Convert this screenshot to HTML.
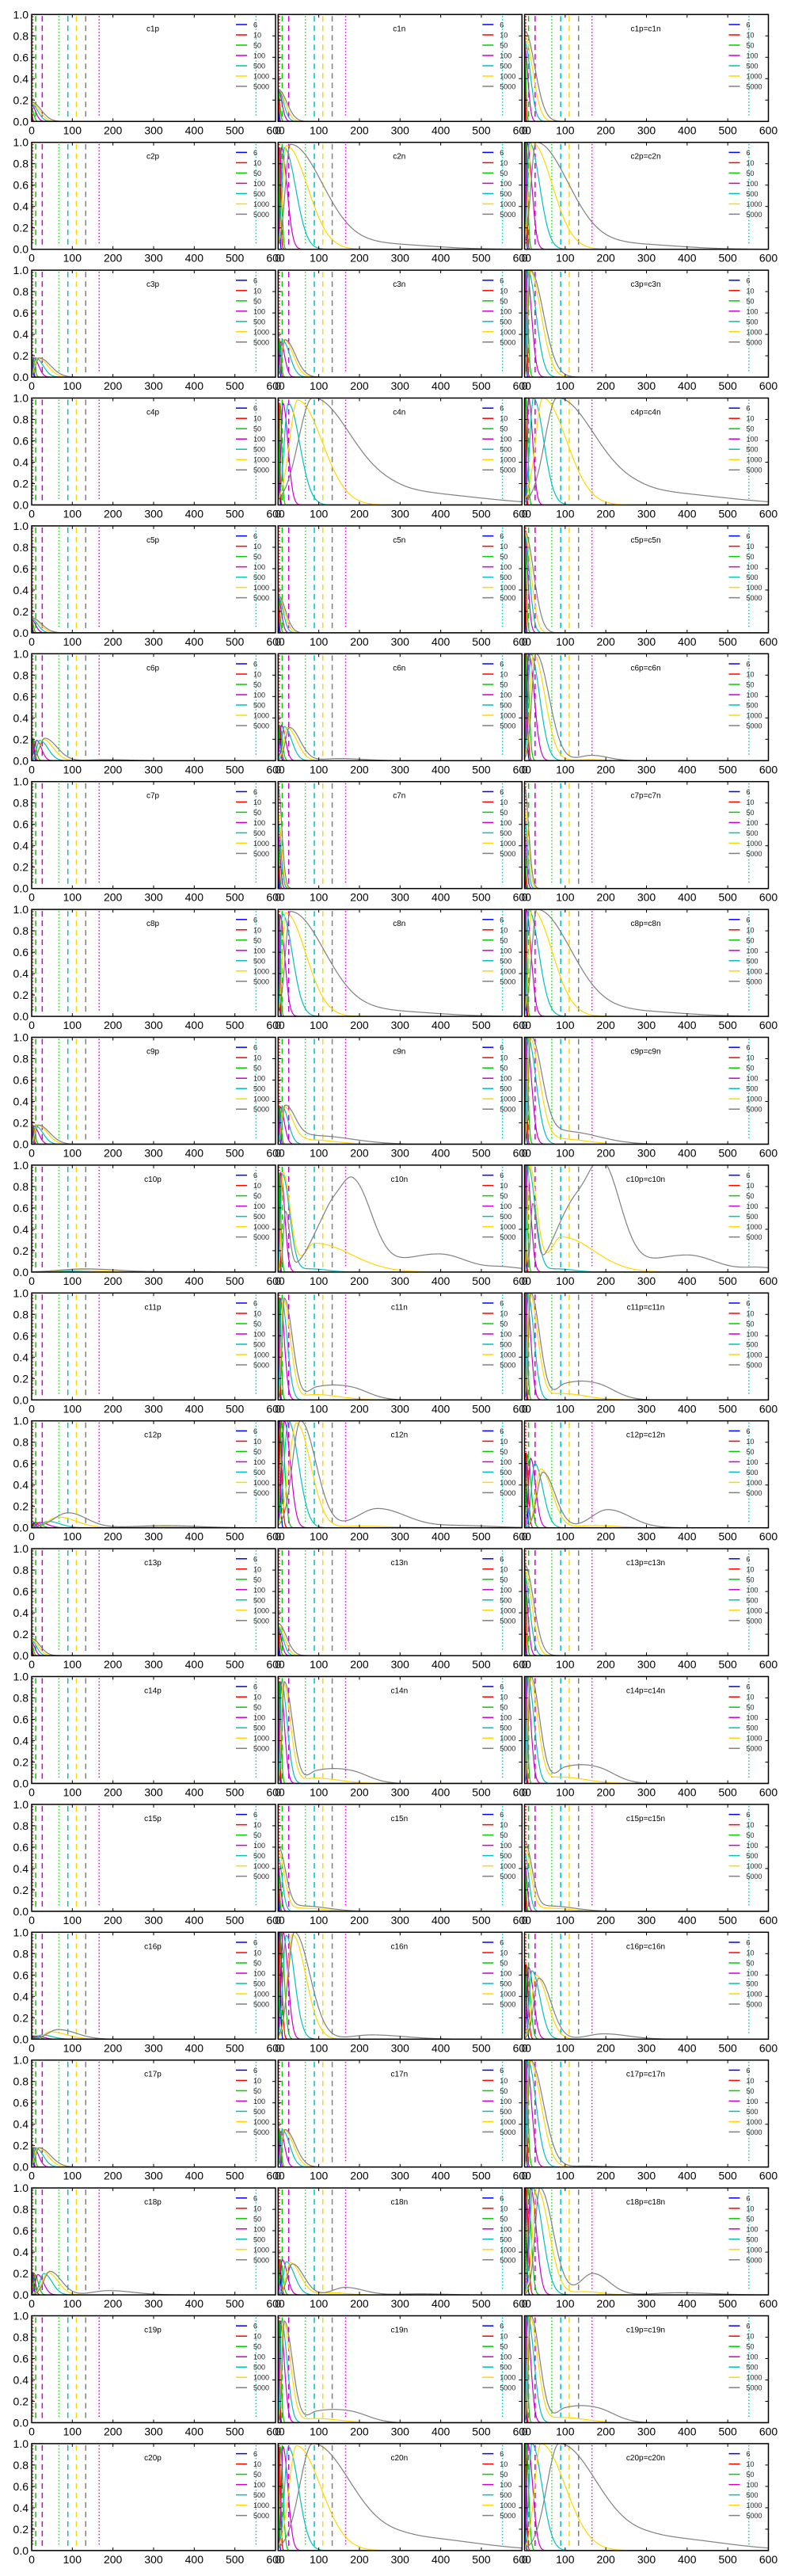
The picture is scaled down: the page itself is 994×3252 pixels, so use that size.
<!DOCTYPE html>
<html><head><meta charset="utf-8"><style>
html,body{margin:0;padding:0;background:#fff;}
svg{display:block;font-family:"Liberation Sans",sans-serif;}
</style></head><body>
<svg id="fig" width="994" height="3252" viewBox="0 0 994 3252" xmlns="http://www.w3.org/2000/svg"></svg>
<script>
const seriesLabels=['6','10','50','100','500','1000','5000'];
const xTicks=[0,100,200,300,400,500,600];
const yTicks=[0,0.2,0.4,0.6,0.8,1.0];
const yTickLabels=['0.0','0.2','0.4','0.6','0.8','1.0'];
const vlineX=[3,10,26,67,89,110,133,166,552];
const rowIds=[1,2,3,4,5,6,7,8,9,10,11,12,13,14,15,16,17,18,19,20];
// each curve: list of bumps [center, height, leftWidth, rightWidth]
const c1p=[[[0,0.05,1,1]],[[0,0.08,1,2]],[[0,0.12,1,5]],[[0,0.15,1,10]],[[0,0.16,1,15]],[[0,0.17,1,19]],[[0,0.18,1,23]]];
const c1n=[[[0,0.3,1,1]],[[0,0.3,1,2]],[[0,0.3,1,4]],[[0,0.3,1,9]],[[0,0.3,1,13]],[[0,0.3,1,17]],[[0,0.3,1,21]]];
const c1b=[[[0,1,1,1]],[[0,1,1,1.5]],[[0,0.9,1,3]],[[0,0.7,1,8]],[[0,0.75,1,14]],[[0,0.8,1,20]],[[0,0.85,1,25]]];
const c2p=[[],[],[],[],[],[],[]];
const c2n=[[[1,0.95,0.5,2]],[[3,0.95,1,3]],[[5,0.95,2,4]],[[8,0.95,3,14]],[[15,0.95,6,28]],[[20,0.97,8,52]],[[30,0.98,12,80],[250,0.05,80,120]]];
const c2b=[[[1,1,0.5,2]],[[2,1,1,3]],[[4,1,2,4]],[[6,1,2,12]],[[12,1,5,25]],[[18,1,8,50]],[[28,1,12,80],[250,0.05,80,120]]];
const c3p=[[[1,0.18,1,2]],[[1,0.18,1,3]],[[2,0.18,1,5]],[[5,0.18,3,12]],[[10,0.18,5,18]],[[15,0.18,7,24]],[[18,0.18,8,28]]];
const c3n=[[[1,0.35,1,2]],[[2,0.35,1,3]],[[3,0.35,1,4]],[[6,0.33,3,10]],[[10,0.35,4,18]],[[15,0.35,6,22]],[[17,0.35,7,25]]];
const c3b=[[[1,1,1,2]],[[2,1,1,3]],[[3,1,1,5]],[[5,1,2,12]],[[8,1,3,20]],[[12,1,4,28]],[[14,1,5,32]]];
const c4p=[[],[],[],[],[],[],[]];
const c4n=[[[1,0.95,0.5,1.5]],[[2,0.95,1,2]],[[5,0.95,2,4]],[[12,0.95,5,12]],[[25,0.95,10,28]],[[48,0.98,20,60]],[[85,1,35,95],[300,0.12,80,180]]];
const c4b=[[[1,1,0.5,1.5]],[[2,1,1,2]],[[4,1,2,4]],[[10,1,4,10]],[[22,1,9,25]],[[45,1,18,58]],[[80,1,30,95],[300,0.12,80,180]]];
const c5p=[[[0,0.1,1,1]],[[0,0.11,1,2]],[[0,0.12,1,4]],[[0,0.12,1,10]],[[0,0.13,1,15]],[[0,0.14,1,20]],[[0,0.14,1,24]]];
const c5n=[[[0,0.35,1,1]],[[0,0.35,1,2]],[[0,0.35,1,4]],[[0,0.33,1,8]],[[0,0.34,1,12]],[[0,0.35,1,15]],[[0,0.35,1,18]]];
const c5b=[[[0,1,1,1]],[[0,1,1,2]],[[0,0.95,1,4]],[[0,0.9,1,8]],[[0,0.92,1,12]],[[0,0.94,1,16]],[[0,0.95,1,22]]];
const c6p=[[[2,0.19,1,3]],[[3,0.19,1,4]],[[5,0.19,2,6]],[[12,0.19,6,12]],[[20,0.19,8,20]],[[28,0.2,10,25]],[[32,0.21,12,30],[180,0.01,40,60]]];
const c6n=[[[2,0.33,1,3]],[[3,0.33,1,4]],[[4,0.33,2,6]],[[8,0.33,4,10]],[[15,0.32,6,18]],[[22,0.31,8,24]],[[28,0.31,10,26],[150,0.02,40,60]]];
const c6b=[[[2,1,1,3]],[[3,1,1,4]],[[5,1,2,6]],[[10,1,4,14]],[[15,1,6,22]],[[22,1,8,28],[160,0.01,30,40]],[[28,1,10,32],[165,0.05,30,40]]];
const c7p=[[],[],[],[],[],[],[]];
const c7n=[[[0,0.3,1,1]],[[0,0.35,1,2]],[[0,0.4,1,3]],[[0,0.5,1,5]],[[0,0.6,1,7]],[[0,0.7,1,8]],[[0,0.95,1,9]]];
const c7b=[[[0,0.3,1,1]],[[0,0.35,1,2]],[[0,0.4,1,3]],[[0,0.5,1,5]],[[0,0.65,1,7]],[[0,0.75,1,9]],[[0,0.95,1,10]]];
const c8p=[[],[],[],[],[],[],[]];
const c8n=[[[1,0.95,0.5,1.5]],[[2,0.95,1,2]],[[3,0.95,1,3]],[[4,0.95,2,12]],[[10,0.96,4,25]],[[18,0.97,7,50]],[[30,0.98,12,85],[260,0.05,80,120]]];
const c8b=[[[1,1,0.5,1.5]],[[2,1,1,2]],[[3,1,1,3]],[[4,1,2,12]],[[10,1,4,25]],[[18,1,7,50]],[[30,1,12,85],[260,0.05,80,120]]];
const c9p=[[[1,0.17,1,2]],[[2,0.17,1,3]],[[3,0.17,1,5]],[[5,0.17,3,12]],[[10,0.17,4,18]],[[14,0.18,6,24]],[[16,0.18,6,28]]];
const c9n=[[[1,0.35,1,2]],[[2,0.35,1,3]],[[3,0.35,1,4]],[[5,0.35,2,10]],[[10,0.35,4,15]],[[14,0.35,5,22],[80,0.04,30,60]],[[17,0.35,6,25],[90,0.08,40,90]]];
const c9b=[[[1,1,1,2]],[[2,1,1,3]],[[3,1,1,5]],[[5,1,2,12]],[[8,1,3,20]],[[12,1,4,25],[90,0.05,30,60]],[[15,1,5,28],[100,0.12,40,80]]];
const c10p=[[],[],[],[],[[80,0.01,40,40]],[[110,0.02,50,60]],[[130,0.03,60,80],[380,0.005,60,80]]];
const c10n=[[[1,0.93,0.5,1.5]],[[2,0.93,1,2]],[[3,0.93,1,4]],[[6,0.93,2,10]],[[10,0.92,4,18],[80,0.03,30,40]],[[12,0.93,4,18],[90,0.27,25,90]],[[18,0.55,5,10],[120,0.45,40,30],[185,0.82,35,45],[395,0.17,100,70],[560,0.04,40,60]]];
const c10b=[[[1,1,0.5,1.5]],[[2,1,1,2]],[[3,1,1,4]],[[5,1,2,10]],[[8,1,3,18],[80,0.03,30,40]],[[12,1,4,18],[90,0.33,25,80]],[[20,0.6,5,10],[110,0.5,40,35],[190,1,40,45],[400,0.16,100,70],[580,0.04,40,60]]];
const c11p=[[],[],[],[],[],[],[]];
const c11n=[[[1,0.95,0.5,1.5]],[[2,0.95,1,2]],[[3,0.95,1,4]],[[5,0.95,2,10]],[[8,0.95,3,14]],[[12,0.95,4,18],[90,0.05,30,60]],[[15,0.95,5,20],[95,0.09,20,60],[180,0.09,60,45]]];
const c11b=[[[1,1,0.5,1.5]],[[2,1,1,2]],[[3,1,1,4]],[[5,1,2,10]],[[8,1,3,15]],[[12,1,4,20],[90,0.06,30,60]],[[15,1,5,22],[100,0.11,20,60],[180,0.11,60,45]]];
const c12p=[[[5,0.05,2,5]],[[8,0.05,3,8]],[[12,0.05,5,12]],[[20,0.05,8,20]],[[40,0.06,15,30]],[[65,0.1,25,45],[320,0.01,60,80]],[[90,0.14,35,45],[330,0.02,80,80]]];
const c12n=[[[2,1,1,3]],[[4,1,2,5]],[[8,1,3,8]],[[15,1,6,15]],[[25,1,10,25]],[[45,0.98,18,35],[200,0.015,40,80]],[[55,1,20,38],[245,0.18,50,70],[450,0.02,60,80]]];
const c12b=[[[2,0.7,1,3]],[[4,0.7,2,5]],[[8,0.68,3,8]],[[15,0.65,5,12]],[[25,0.6,8,20]],[[40,0.55,12,28],[170,0.02,40,60]],[[45,0.52,14,30],[205,0.17,40,55]]];
const c13p=[[[0,0.08,1,1]],[[0,0.1,1,2]],[[0,0.11,1,4]],[[0,0.12,1,8]],[[0,0.14,1,12]],[[0,0.15,1,16]],[[0,0.16,1,20]]];
const c13n=[[[0,0.3,1,1]],[[0,0.3,1,2]],[[0,0.3,1,4]],[[0,0.25,1,8]],[[0,0.27,1,12]],[[0,0.28,1,16]],[[0,0.3,1,20]]];
const c13b=[[[0,1,1,1]],[[0,0.95,1,2]],[[0,0.9,1,4]],[[0,0.7,1,8]],[[0,0.75,1,13]],[[0,0.8,1,18]],[[0,0.85,1,22]]];
const c14p=[[],[],[],[],[],[],[]];
const c14n=[[[1,0.95,0.5,1.5]],[[2,0.95,1,2]],[[3,0.95,1,4]],[[5,0.95,2,10]],[[8,0.95,3,14]],[[12,0.95,4,18],[90,0.05,30,60]],[[15,0.95,5,20],[95,0.09,20,60],[180,0.09,60,45]]];
const c14b=[[[1,1,0.5,1.5]],[[2,1,1,2]],[[3,1,1,4]],[[5,1,2,10]],[[8,1,3,15]],[[12,1,4,20],[90,0.06,30,60]],[[15,1,5,22],[100,0.11,20,60],[180,0.11,60,45]]];
const c15p=[[],[],[],[],[],[],[]];
const c15n=[[[0,0.3,1,1]],[[0,0.35,1,2]],[[0,0.4,1,3]],[[0,0.4,1,6]],[[0,0.5,1,10]],[[0,0.55,1,15],[50,0.03,30,60]],[[0,0.6,1,18],[60,0.05,30,60]]];
const c15b=[[[0,0.4,1,1]],[[0,0.45,1,2]],[[0,0.5,1,3]],[[0,0.45,1,6]],[[0,0.55,1,10]],[[0,0.6,1,15],[50,0.03,30,60]],[[0,0.65,1,18],[60,0.05,30,60]]];
const c16p=[[[3,0.03,1,4]],[[6,0.03,2,6]],[[10,0.03,4,10]],[[15,0.03,6,15]],[[25,0.04,10,25]],[[45,0.07,15,40]],[[65,0.09,25,45]]];
const c16n=[[[2,1,1,3]],[[4,1,2,5]],[[7,1,3,8]],[[12,1,5,12]],[[20,0.97,8,20]],[[35,0.98,12,33]],[[40,1,15,38],[230,0.04,50,80]]];
const c16b=[[[2,0.7,1,3]],[[4,0.7,2,5]],[[6,0.68,3,8]],[[10,0.67,4,12]],[[18,0.64,6,20]],[[28,0.6,10,28]],[[35,0.57,12,30],[195,0.05,40,60]]];
const c17p=[[[1,0.18,1,2]],[[1,0.18,1,3]],[[2,0.18,1,5]],[[5,0.18,3,12]],[[10,0.18,5,18]],[[15,0.18,7,24]],[[18,0.18,8,28]]];
const c17n=[[[1,0.35,1,2]],[[2,0.35,1,3]],[[3,0.35,1,4]],[[6,0.33,3,10]],[[10,0.35,4,18]],[[15,0.35,6,22]],[[17,0.35,7,25]]];
const c17b=[[[1,1,1,2]],[[2,1,1,3]],[[3,1,1,5]],[[5,1,2,12]],[[8,1,3,20]],[[12,1,4,28]],[[14,1,5,32],[150,0.01,30,40]]];
const c18p=[[[2,0.19,1,3]],[[4,0.19,2,5]],[[8,0.19,3,8]],[[15,0.19,6,14]],[[30,0.2,10,20]],[[40,0.21,14,25]],[[45,0.22,15,28],[190,0.04,40,60]]];
const c18n=[[[2,0.33,1,3]],[[3,0.33,1,4]],[[5,0.33,2,6]],[[10,0.33,4,12]],[[20,0.31,7,20]],[[30,0.3,10,25],[130,0.02,30,40]],[[35,0.29,12,28],[165,0.07,30,45],[350,0.01,50,60]]];
const c18b=[[[2,1,1,3]],[[4,1,2,5]],[[8,1,3,8]],[[15,1,5,14]],[[20,1,7,24]],[[30,1,10,30],[150,0.03,30,40]],[[38,1,12,32],[168,0.2,30,40],[380,0.02,60,80]]];
const c19p=[[],[],[],[],[],[],[]];
const c19n=[[[1,0.95,0.5,1.5]],[[2,0.95,1,2]],[[3,0.95,1,4]],[[5,0.95,2,10]],[[8,0.95,3,14]],[[12,0.95,4,18],[90,0.04,30,60]],[[15,0.95,5,20],[95,0.08,20,60],[180,0.08,60,45]]];
const c19b=[[[1,1,0.5,1.5]],[[2,1,1,2]],[[3,1,1,4]],[[5,1,2,10]],[[8,1,3,15]],[[12,1,4,20],[90,0.05,30,60]],[[15,1,5,22],[100,0.1,20,60],[180,0.1,60,45]]];
const c20p=[[],[],[],[],[],[],[]];
const c20n=[[[1,0.97,0.5,1.5]],[[3,0.97,1,3]],[[6,0.97,2,6]],[[12,0.97,4,12]],[[25,0.97,9,25]],[[45,0.98,18,60]],[[85,1,32,95],[330,0.12,80,150]]];
const c20b=[[[1,1,0.5,1.5]],[[2,1,1,3]],[[4,1,2,6]],[[8,1,3,12]],[[18,1,7,25]],[[40,1,15,60]],[[85,1,30,95],[330,0.12,80,150]]];
const plotData=[[c1p,c1n,c1b],[c2p,c2n,c2b],[c3p,c3n,c3b],[c4p,c4n,c4b],[c5p,c5n,c5b],[c6p,c6n,c6b],[c7p,c7n,c7b],[c8p,c8n,c8b],[c9p,c9n,c9b],[c10p,c10n,c10b],[c11p,c11n,c11b],[c12p,c12n,c12b],[c13p,c13n,c13b],[c14p,c14n,c14b],[c15p,c15n,c15b],[c16p,c16n,c16b],[c17p,c17n,c17b],[c18p,c18n,c18b],[c19p,c19n,c19b],[c20p,c20n,c20b]];

const seriesColors=['#0000ff','#ff0000','#00cc00','#cc00cc','#00bfbf','#ffd700','#808080'];
const vlineColors=['#ff0000','#00cc00','#cc00cc','#22dd22','#00bfbf','#ffd700','#808080','#ee00ee','#00cccc'];
const vlineDash=['1.5,2.5','7,5','7,5','1.5,2.5','7,5','7,5','7,5','1.5,2.5','1.5,2.5'];
const W=308,H=135,colX=[40,351.3,662.5],rowY0=18.3,pitch=161.4;
const NS='http://www.w3.org/2000/svg';
const svg=document.getElementById('fig');
function mk(tag,attrs,parent){const e=document.createElementNS(NS,tag);for(const k in attrs)e.setAttribute(k,attrs[k]);parent.appendChild(e);return e;}
function evalCurve(bumps,x){let y=0;for(const b of bumps){const w=x<b[0]?b[2]:b[3];const d=(x-b[0])/w;y+=b[1]*Math.exp(-0.5*d*d);}return Math.min(y,1);}
const defs=mk('defs',{},svg);
rowIds.forEach((rid,ri)=>{
  const titles=['c'+rid+'p','c'+rid+'n','c'+rid+'p=c'+rid+'n'];
  for(let ci=0;ci<3;ci++){
    const x0=colX[ci],y0=rowY0+ri*pitch;
    const sx=v=>x0+v/600*W, sy=v=>y0+H-v*H;
    const g=mk('g',{},svg);
    
    
    const cid='clip'+ri+'_'+ci;
    const cp=mk('clipPath',{id:cid},defs);
    mk('rect',{x:x0,y:y0,width:W,height:H},cp);
    const inner=mk('g',{'clip-path':'url(#'+cid+')'},g);
    vlineX.forEach((vx,vi)=>{
      const l=mk('line',{x1:sx(vx),x2:sx(vx),y1:y0+2,y2:sy(0.04),stroke:vlineColors[vi],'stroke-width':1.5,'stroke-dasharray':vlineDash[vi]},inner);
      
      
    });
    plotData[ri][ci].forEach((bumps,si)=>{
      let d='';
      for(let x=0;x<=600;x+=1){d+=(x?'L':'M')+sx(x).toFixed(1)+','+sy(evalCurve(bumps,x)).toFixed(2);}
      const p=mk('path',{d:d,fill:'none',stroke:seriesColors[si],'stroke-width':1.2},inner);
      
      
    });
    const fr=mk('rect',{x:x0,y:y0,width:W,height:H,fill:'none',stroke:'#000','stroke-width':1.5},g);
    
    
    xTicks.forEach(t=>{
      mk('line',{x1:sx(t),x2:sx(t),y1:y0+H,y2:y0+H-4,stroke:'#000','stroke-width':1},g);
      mk('line',{x1:sx(t),x2:sx(t),y1:y0,y2:y0+4,stroke:'#000','stroke-width':1},g);
      const tl=mk('text',{x:sx(t),y:y0+H+16,'text-anchor':'middle','font-size':14,fill:'#000'},g);
      tl.textContent=String(t);
      
      
    });
    yTicks.forEach((t,ti)=>{
      mk('line',{x1:x0,x2:x0+4,y1:sy(t),y2:sy(t),stroke:'#000','stroke-width':1},g);
      mk('line',{x1:x0+W,x2:x0+W-4,y1:sy(t),y2:sy(t),stroke:'#000','stroke-width':1},g);
      if(ci===0){
        const yl=mk('text',{x:x0-4,y:sy(t)+5,'text-anchor':'end','font-size':14,fill:'#000'},g);
        yl.textContent=yTickLabels[ti];
        
        
      }
    });
    const tt=mk('text',{x:x0+153,y:y0+21,'text-anchor':'middle','font-size':10,fill:'#000','font-family':'Liberation Sans, sans-serif'},g);
    tt.textContent=titles[ci];
    
    
    const lg=mk('g',{},g);
    
    
    seriesLabels.forEach((lab,si)=>{
      const ly=y0+12.7+si*13;
      const ll=mk('line',{x1:x0+258,x2:x0+272,y1:ly,y2:ly,stroke:seriesColors[si],'stroke-width':1.5},lg);
      
      
      const lt=mk('text',{x:x0+280,y:ly+3.5,'font-size':9,fill:'#222'},lg);
      lt.textContent=lab;
      
      
    });
  }
});
</script>
</body></html>
